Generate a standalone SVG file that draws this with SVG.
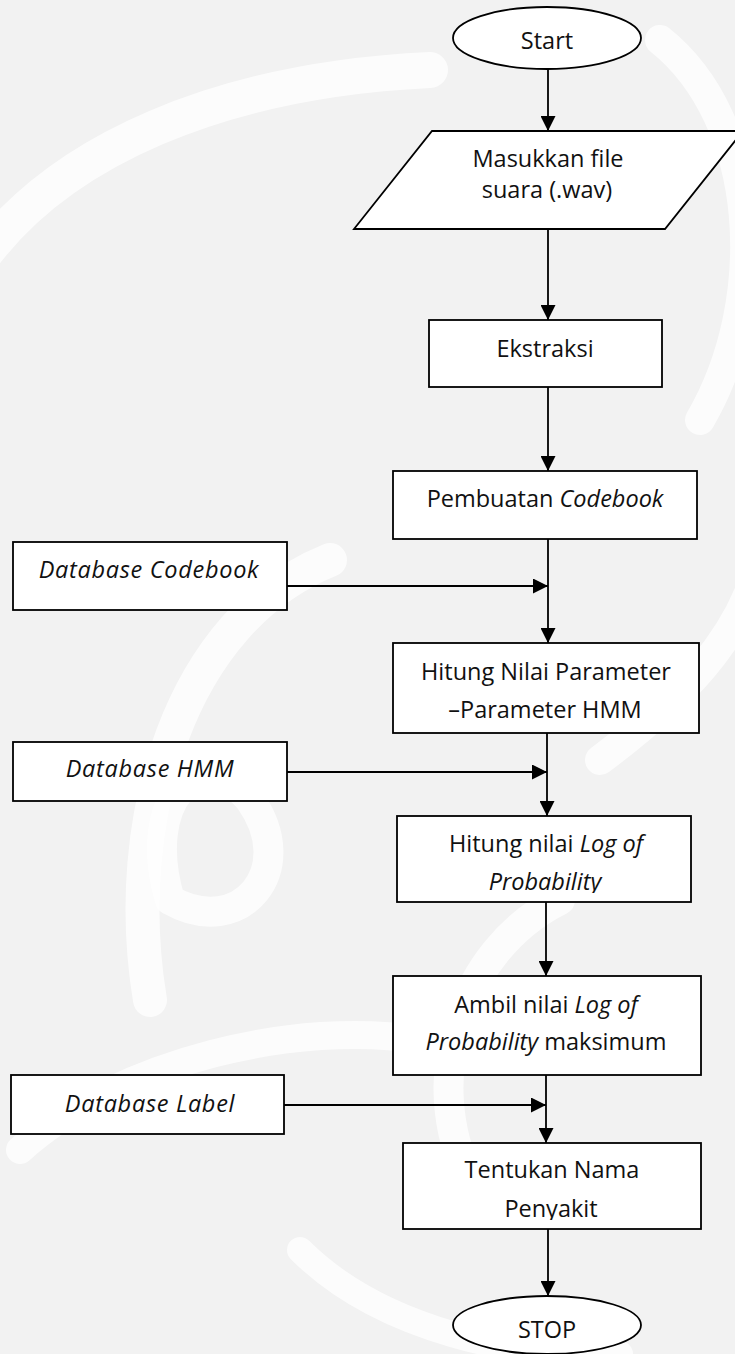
<svg xmlns="http://www.w3.org/2000/svg" width="735" height="1354" viewBox="0 0 735 1354">
  <style>
    .shape { fill: #ffffff; stroke: #000000; stroke-width: 1.8; }
    .wire { fill: none; stroke: #000000; stroke-width: 1.8; marker-end: url(#head); }
    .lbl { font-family: "Open Sans", "Liberation Sans", sans-serif; font-size: 23.5px; fill: #111111; text-anchor: middle; }
    .it { font-style: italic; }
    .db { letter-spacing: 0.7px; }
    .wm { fill: none; stroke: #ffffff; stroke-linecap: round; opacity: 0.75; }
  </style>
  <defs>
    <marker id="head" markerUnits="userSpaceOnUse" markerWidth="15" markerHeight="15" viewBox="0 0 14 14" refX="14" refY="7" orient="auto">
      <path d="M0,0 L14,7 L0,14 Z" fill="#000000"/>
    </marker>
    <clipPath id="clipLog"><rect x="390" y="816" width="310" height="77"/></clipPath>
    <clipPath id="clipPen"><rect x="400" y="1143" width="305" height="77"/></clipPath>
  </defs>

  <!-- page background with faint watermark swirls -->
  <g id="background">
    <rect x="0" y="0" width="735" height="1354" fill="#f2f2f2"/>
    <path class="wm" stroke-width="36" d="M-20,260 C60,150 220,80 430,70"/>
    <path class="wm" stroke-width="30" d="M660,40 C760,120 770,300 700,420"/>
    <path class="wm" stroke-width="34" d="M150,1000 C120,820 180,620 330,560"/>
    <path class="wm" stroke-width="30" d="M170,900 C240,940 300,870 250,800 C200,740 140,800 170,900"/>
    <path class="wm" stroke-width="30" d="M470,1180 C420,1080 460,950 560,900"/>
    <path class="wm" stroke-width="30" d="M600,760 C680,700 740,640 760,560"/>
    <path class="wm" stroke-width="28" d="M20,1150 C120,1060 300,1020 420,1040"/>
    <path class="wm" stroke-width="26" d="M300,1250 C380,1330 520,1360 620,1354"/>
  </g>

  <!-- connectors -->
  <g id="connectors">
    <line class="wire" x1="548" y1="69" x2="548" y2="131"/>
    <line class="wire" x1="548" y1="229" x2="548" y2="320"/>
    <line class="wire" x1="548" y1="387" x2="548" y2="471"/>
    <line class="wire" x1="548" y1="539" x2="548" y2="643"/>
    <line class="wire" x1="287" y1="586" x2="548" y2="586"/>
    <line class="wire" x1="547" y1="733" x2="547" y2="816"/>
    <line class="wire" x1="287" y1="772" x2="547" y2="772"/>
    <line class="wire" x1="546" y1="902" x2="546" y2="976"/>
    <line class="wire" x1="546" y1="1075" x2="546" y2="1143"/>
    <line class="wire" x1="284" y1="1105" x2="546" y2="1105"/>
    <line class="wire" x1="548" y1="1229" x2="548" y2="1296"/>
  </g>

  <g id="start">
    <ellipse class="shape" cx="547" cy="38" rx="94" ry="31"/>
    <text class="lbl" x="547" y="49">Start</text>
  </g>

  <g id="input">
    <polygon class="shape" points="432,131 743,131 665,229 354,229"/>
    <text class="lbl" x="548" y="167">Masukkan file</text>
    <text class="lbl" x="547" y="198">suara (.wav)</text>
  </g>

  <g id="ekstraksi">
    <rect class="shape" x="429" y="320" width="233" height="67"/>
    <text class="lbl" x="545" y="357">Ekstraksi</text>
  </g>

  <g id="codebook">
    <rect class="shape" x="393" y="471" width="304" height="68"/>
    <text class="lbl" x="545" y="507">Pembuatan <tspan class="it">Codebook</tspan></text>
  </g>

  <g id="db-codebook">
    <rect class="shape" x="13" y="542" width="274" height="68"/>
    <text class="lbl it db" x="149" y="578">Database Codebook</text>
  </g>

  <g id="hmm-params">
    <rect class="shape" x="393" y="643" width="306" height="90"/>
    <text class="lbl" x="546" y="680">Hitung Nilai Parameter</text>
    <text class="lbl" x="545" y="718">–Parameter HMM</text>
  </g>

  <g id="db-hmm">
    <rect class="shape" x="13" y="742" width="274" height="59"/>
    <text class="lbl it db" x="150" y="777">Database HMM</text>
  </g>

  <g id="log-prob">
    <rect class="shape" x="397" y="816" width="294" height="86"/>
    <text class="lbl" x="546" y="852">Hitung nilai <tspan class="it">Log of</tspan></text>
    <text class="lbl it" x="545" y="890" clip-path="url(#clipLog)">Probability</text>
  </g>

  <g id="max-prob">
    <rect class="shape" x="393" y="976" width="308" height="99"/>
    <text class="lbl" x="546" y="1013">Ambil nilai <tspan class="it">Log of</tspan></text>
    <text class="lbl" x="546" y="1050"><tspan class="it">Probability</tspan> maksimum</text>
  </g>

  <g id="db-label">
    <rect class="shape" x="11" y="1075" width="273" height="59"/>
    <text class="lbl it db" x="150" y="1112">Database Label</text>
  </g>

  <g id="result">
    <rect class="shape" x="403" y="1143" width="298" height="86"/>
    <text class="lbl" x="552" y="1178">Tentukan Nama</text>
    <text class="lbl" x="551" y="1217" clip-path="url(#clipPen)">Penyakit</text>
  </g>

  <g id="stop">
    <ellipse class="shape" cx="547" cy="1325" rx="94" ry="29"/>
    <text class="lbl" x="547" y="1338">STOP</text>
  </g>
</svg>
